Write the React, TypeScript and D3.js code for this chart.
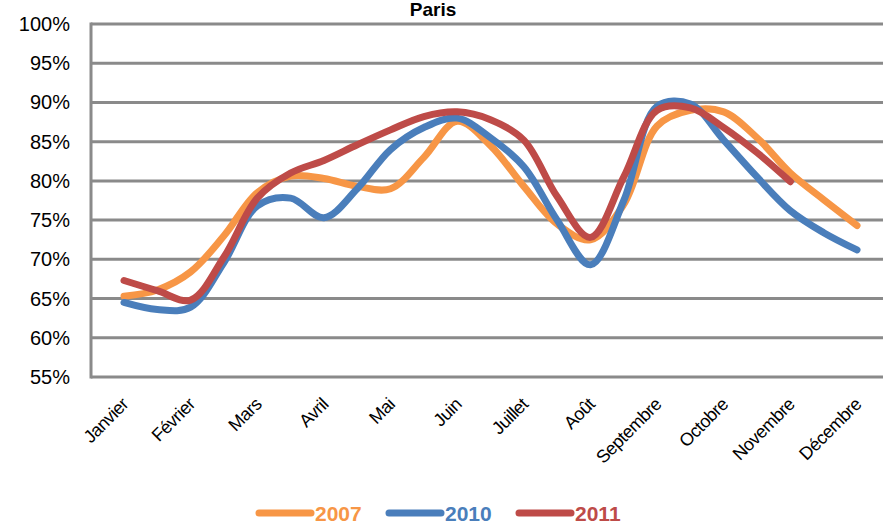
import React from "react";
import * as d3 from "d3";

// x labels (one per month), data read every half month
const months = [
  "Janvier", "Février", "Mars", "Avril", "Mai", "Juin",
  "Juillet", "Août", "Septembre", "Octobre", "Novembre", "Décembre",
];
const yTicks = [55, 60, 65, 70, 75, 80, 85, 90, 95, 100];

const values2007 = [
  65.3, 66.1, 68.4, 73.0, 78.5, 80.6, 80.3, 79.3, 79.0, 83.0, 87.6, 84.5,
  79.3, 74.5, 72.5, 77.0, 87.0, 89.0, 88.8, 85.5, 81.0, 77.6, 74.3,
];
const values2010 = [
  64.5, 63.6, 63.9, 69.6, 76.8, 77.8, 75.3, 79.0, 84.0, 86.8, 88.0, 85.5,
  81.8, 75.0, 69.3, 77.5, 89.5, 89.8, 85.2, 80.5, 76.2, 73.4, 71.2,
];
const values2011 = [
  67.3, 66.0, 64.8, 70.3, 77.8, 81.0, 82.6, 84.6, 86.5, 88.2, 88.8, 87.8,
  85.2, 78.0, 72.8, 80.5, 89.0, 89.3, 86.8, 83.6, 79.9,
];

const series = [
  { name: "2007", color: "#F79646", values: values2007 },
  { name: "2010", color: "#4A7EBB", values: values2010 },
  { name: "2011", color: "#BE4B48", values: values2011 },
];

const W = 883;
const H = 526;
const left = 91;
const top = 24;
const bottom = 377;
const font = "Arial, 'Liberation Sans', sans-serif";

export default function App() {
  const x = d3.scaleLinear().domain([0, 11]).range([124, 857]);
  const y = d3.scaleLinear().domain([55, 100]).range([bottom, top]);

  const line = d3
    .line<number>()
    .x((_, i) => x(i / 2))
    .y((d) => y(d))
    .curve(d3.curveCatmullRom.alpha(0.5));

  const legendX = [255, 385, 515];

  return (
    <div style={{ position: "absolute", left: 0, top: 0 }}>
      <svg width={W} height={H} style={{ display: "block", background: "#fff" }}>
        <text x={433} y={16} textAnchor="middle" fontFamily={font} fontWeight="bold" fontSize={19}>
          Paris
        </text>

        {yTicks.map((t) => (
          <g key={t}>
            <line x1={left} x2={W} y1={y(t)} y2={y(t)} stroke="#8A8A8A" strokeWidth={3} />
            <text
              x={70}
              y={y(t)}
              dy="0.35em"
              textAnchor="end"
              fontFamily={font}
              fontSize={20}
              fill="#000"
            >
              {t}%
            </text>
          </g>
        ))}
        <line x1={left} x2={left} y1={top - 1.5} y2={bottom + 1.5} stroke="#8A8A8A" strokeWidth={3} />

        {months.map((m, i) => (
          <text
            key={m}
            transform={`translate(${x(i) + 1},${bottom + 24}) rotate(-45)`}
            textAnchor="end"
            dy="0.35em"
            fontFamily={font}
            fontSize={18}
            letterSpacing={-0.5}
            fill="#000"
          >
            {m}
          </text>
        ))}

        {series.map((s) => (
          <path
            key={s.name}
            d={line(s.values) ?? ""}
            fill="none"
            stroke={s.color}
            strokeWidth={7}
            strokeLinecap="round"
            strokeLinejoin="round"
          />
        ))}

        {series.map((s, i) => (
          <g key={s.name} transform={`translate(${legendX[i]},513)`}>
            <line x1={4} x2={56} y1={0} y2={0} stroke={s.color} strokeWidth={7} strokeLinecap="round" />
            <text x={60} y={0} dy="0.36em" fontFamily={font} fontWeight="bold" fontSize={21} fill={s.color}>
              {s.name}
            </text>
          </g>
        ))}
      </svg>
    </div>
  );
}
